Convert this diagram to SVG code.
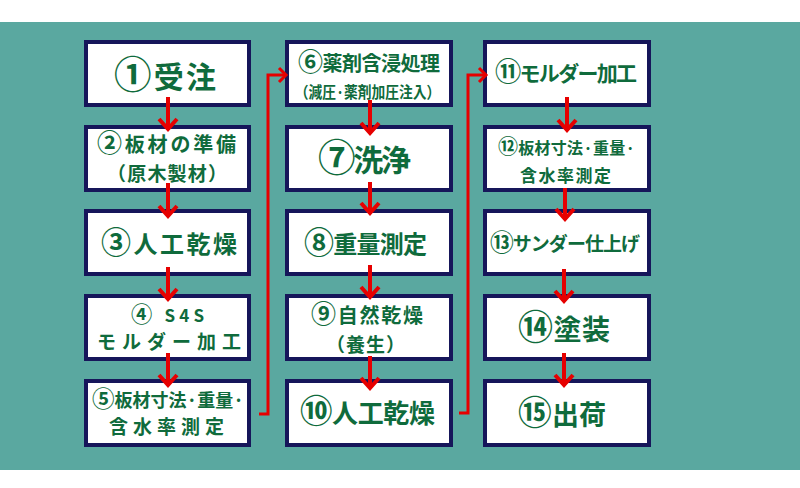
<svg xmlns="http://www.w3.org/2000/svg" width="800" height="488" viewBox="0 0 800 488">
<defs>
<style>
.box{fill:#ffffff;stroke:#16165a;stroke-width:4}
.t{font-family:"Noto Sans CJK JP","Noto Sans CJK SC",sans-serif;font-weight:bold;fill:#0f6b3c;text-anchor:middle}
.c{font-size:1.25em}
.ar{fill:none;stroke:#e60000;stroke-width:4}
.cn{fill:none;stroke:#e60000;stroke-width:3}
</style>
<marker id="hd" markerUnits="userSpaceOnUse" markerWidth="24" markerHeight="24" refX="12" refY="12" orient="auto" viewBox="0 0 24 24">
<path d="M2,3 L12,12 L2,21" fill="none" stroke="#e60000" stroke-width="4"/>
</marker>
<marker id="hs" markerUnits="userSpaceOnUse" markerWidth="20" markerHeight="20" refX="10" refY="10" orient="auto" viewBox="0 0 20 20">
<path d="M3,3 L10,10 L3,17" fill="none" stroke="#e60000" stroke-width="3"/>
</marker>
</defs>
<rect x="0" y="0" width="800" height="488" fill="#ffffff"/>
<rect x="0" y="22" width="800" height="448" fill="#5aa8a0"/>

<g id="n1"><rect class="box" x="86" y="42" width="163" height="63"/><text class="t" x="165" y="88" font-size="30" textLength="102" lengthAdjust="spacing"><tspan class="c">①</tspan>受注</text></g>
<g id="n2"><rect class="box" x="86" y="127" width="163" height="63"/><text class="t" x="166.5" y="152" font-size="20" textLength="139" lengthAdjust="spacing"><tspan class="c">②</tspan>板材の準備</text><text class="t" x="167" y="181" font-size="19" textLength="120" lengthAdjust="spacing">（原木製材）</text></g>
<g id="n3"><rect class="box" x="86" y="211" width="163" height="63"/><text class="t" x="169" y="253" font-size="24" textLength="136" lengthAdjust="spacing"><tspan class="c">③</tspan>人工乾燥</text></g>
<g id="n4"><rect class="box" x="86" y="296" width="163" height="63"/><text class="t" x="167.5" y="322" font-size="17" textLength="73" lengthAdjust="spacing"><tspan class="c">④</tspan> S4S</text><text class="t" x="169" y="349" font-size="19" textLength="144" lengthAdjust="spacing">モルダー加工</text></g>
<g id="n5"><rect class="box" x="86" y="381" width="163" height="64"/><text class="t" x="168" y="407" font-size="18" textLength="152" lengthAdjust="spacing"><tspan class="c">⑤</tspan>板材寸法·重量·</text><text class="t" x="166.5" y="434" font-size="19" textLength="115" lengthAdjust="spacing">含水率測定</text></g>

<g id="n6"><rect class="box" x="287" y="42" width="164" height="63"/><text class="t" x="369" y="71" font-size="20" textLength="142" lengthAdjust="spacing"><tspan class="c">⑥</tspan>薬剤含浸処理</text><text class="t" transform="translate(367.5,98) scale(0.86,1)" x="0" y="0" font-size="16" font-weight="normal">（減圧·薬剤加圧注入）</text></g>
<g id="n7"><rect class="box" x="287" y="127" width="164" height="63"/><text class="t" x="364.5" y="171" font-size="30" textLength="93" lengthAdjust="spacing"><tspan class="c">⑦</tspan>洗浄</text></g>
<g id="n8"><rect class="box" x="287" y="211" width="164" height="63"/><text class="t" x="365.5" y="253" font-size="24" textLength="123" lengthAdjust="spacing"><tspan class="c">⑧</tspan>重量測定</text></g>
<g id="n9"><rect class="box" x="287" y="296" width="164" height="63"/><text class="t" x="367" y="323" font-size="20" textLength="112" lengthAdjust="spacing"><tspan class="c">⑨</tspan>自然乾燥</text><text class="t" x="365.5" y="352" font-size="19" textLength="79" lengthAdjust="spacing">（養生）</text></g>
<g id="n10"><rect class="box" x="287" y="381" width="164" height="64"/><text class="t" x="367.5" y="423" font-size="26" textLength="135" lengthAdjust="spacing"><tspan class="c">⑩</tspan>人工乾燥</text></g>

<g id="n11"><rect class="box" x="485" y="42" width="164" height="63"/><text class="t" x="566" y="81" font-size="21" textLength="142" lengthAdjust="spacing"><tspan class="c">⑪</tspan>モルダー加工</text></g>
<g id="n12"><rect class="box" x="485" y="127" width="164" height="63"/><text class="t" x="566.5" y="154" font-size="16" textLength="137" lengthAdjust="spacing"><tspan class="c">⑫</tspan>板材寸法·重量·</text><text class="t" x="565.5" y="182" font-size="17" textLength="91" lengthAdjust="spacing">含水率測定</text></g>
<g id="n13"><rect class="box" x="485" y="211" width="164" height="63"/><text class="t" x="565" y="251" font-size="19" textLength="150" lengthAdjust="spacing"><tspan class="c">⑬</tspan>サンダー仕上げ</text></g>
<g id="n14"><rect class="box" x="485" y="296" width="164" height="63"/><text class="t" x="564" y="340" font-size="28" textLength="92" lengthAdjust="spacing"><tspan class="c">⑭</tspan>塗装</text></g>
<g id="n15"><rect class="box" x="485" y="381" width="164" height="64"/><text class="t" x="562" y="425" font-size="27" textLength="88" lengthAdjust="spacing"><tspan class="c">⑮</tspan>出荷</text></g>

<g id="connectors">
<path class="ar" marker-end="url(#hd)" d="M168,97 V129"/>
<path class="ar" marker-end="url(#hd)" d="M168,183 V216"/>
<path class="ar" marker-end="url(#hd)" d="M168,267 V299"/>
<path class="ar" marker-end="url(#hd)" d="M168,353 V385"/>
<path class="ar" marker-end="url(#hd)" d="M370,100 V133"/>
<path class="ar" marker-end="url(#hd)" d="M370,182 V213"/>
<path class="ar" marker-end="url(#hd)" d="M370,265 V297"/>
<path class="ar" marker-end="url(#hd)" d="M370,356 V388"/>
<path class="ar" marker-end="url(#hd)" d="M567,97 V130"/>
<path class="ar" marker-end="url(#hd)" d="M565,188 V219"/>
<path class="ar" marker-end="url(#hd)" d="M564,269 V301"/>
<path class="ar" marker-end="url(#hd)" d="M564,353 V385"/>
<path class="cn" marker-end="url(#hs)" d="M259,414 H268 V75 H286"/>
<path class="cn" marker-end="url(#hs)" d="M459,413 H468 V75 H486"/>
</g>
</svg>
